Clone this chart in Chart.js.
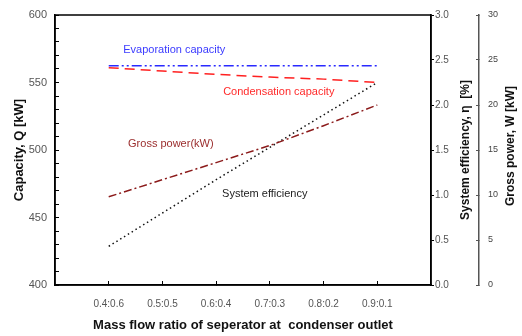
<!DOCTYPE html>
<html>
<head>
<meta charset="utf-8">
<script src="https://cdn.jsdelivr.net/npm/chart.js@4/dist/chart.umd.min.js"></script>
<style>
  html, body { margin: 0; padding: 0; background: #fff; }
  #wrap { width: 522px; height: 336px; }
</style>
</head>
<body>
<div id="wrap"><canvas id="grafico"></canvas></div>
<script>
// valores
const ratioValues = [0.4, 0.5, 0.6, 0.7, 0.8, 0.9];
const ratioLabels = ["0.4:0.6", "0.5:0.5", "0.6:0.4", "0.7:0.3", "0.8:0.2", "0.9:0.1"];
const evaporation = [562.5, 562.5, 562.5, 562.5, 562.5, 562.5];
const condensation = [561, 558.5, 556, 554, 552.5, 550];
const grossPower = [9.8, 11.7, 13.6, 15.5, 17.7, 20.0];
const efficiency = [0.43, 0.80, 1.17, 1.53, 1.89, 2.25];

// rótulos dentro do gráfico (posição em unidades dos eixos x / y)
const notes = [
    { text: "Evaporation capacity", x: 0.427, y: 574, color: "#3b3bff" },
    { text: "Condensation capacity", x: 0.613, y: 543, color: "#ff2a2a" },
    { text: "Gross power(kW)", x: 0.436, y: 504.5, color: "#9b2d2d" },
    { text: "System efficiency", x: 0.611, y: 467.5, color: "#222" }
];

function pontos(valores) {
    return ratioValues.map((x, i) => ({ x: x, y: valores[i] }));
}

function labelDe(v) {
    const i = ratioValues.findIndex(r => Math.abs(r - v) < 1e-6);
    return i >= 0 ? ratioLabels[i] : "";
}

// largura fixa para cada eixo vertical, sem folga extra em cima/embaixo
function larguraFixa(w) {
    return s => {
        s.width = w;
        s.paddingTop = 0;
        s.paddingBottom = 0;
    };
}

const moldura = {
    id: "moldura",
    afterDraw(chart) {
        const { ctx, chartArea: a } = chart;
        ctx.save();
        ctx.strokeStyle = "#000";
        ctx.lineWidth = 1.5;
        ctx.strokeRect(a.left, a.top, a.right - a.left, a.bottom - a.top);

        // textos das curvas
        ctx.font = "11px 'Liberation Sans', Arial, sans-serif";
        ctx.textBaseline = "middle";
        ctx.textAlign = "left";
        notes.forEach(n => {
            ctx.fillStyle = n.color;
            ctx.fillText(n.text, chart.scales.x.getPixelForValue(n.x), chart.scales.y.getPixelForValue(n.y));
        });

        // títulos dos eixos da direita (lidos de baixo para cima)
        const midY = (a.top + a.bottom) / 2;
        ctx.fillStyle = "#111";
        ctx.textAlign = "center";
        ctx.font = "bold 12px 'Liberation Sans', Arial, sans-serif";
        ctx.save();
        ctx.translate(chart.scales.y1.right - 13, midY);
        ctx.rotate(-Math.PI / 2);
        ctx.fillText("System efficiency, \u03b7  [%]", 0, 0);
        ctx.restore();
        ctx.save();
        ctx.translate(chart.scales.y2.right - 11, midY - 4);
        ctx.rotate(-Math.PI / 2);
        ctx.fillText("Gross power, W [kW]", 0, 0);
        ctx.restore();
        ctx.restore();
    }
};

const fonte = "'Liberation Sans', Arial, sans-serif";

new Chart(document.getElementById("grafico"), {
    type: "line",
    data: {
        datasets: [
            {
                label: "Evaporation capacity",
                data: pontos(evaporation),
                yAxisID: "y",
                borderColor: "#2a2aff",
                borderWidth: 1.5,
                borderDash: [10, 3, 2, 3, 2, 3],
                pointRadius: 0,
                fill: false
            },
            {
                label: "Condensation capacity",
                data: pontos(condensation),
                yAxisID: "y",
                borderColor: "#ff2020",
                borderWidth: 1.5,
                borderDash: [10, 6],
                pointRadius: 0,
                fill: false
            },
            {
                label: "Gross power(kW)",
                data: pontos(grossPower),
                yAxisID: "y2",
                borderColor: "#8b1a1a",
                borderWidth: 1.5,
                borderDash: [8, 3, 2, 3],
                pointRadius: 0,
                fill: false
            },
            {
                label: "System efficiency",
                data: pontos(efficiency),
                yAxisID: "y1",
                borderColor: "#111",
                borderWidth: 1.5,
                borderDash: [1.5, 3],
                pointRadius: 0,
                fill: false
            }
        ]
    },
    options: {
        responsive: true,
        maintainAspectRatio: false,
        animation: false,
        layout: { padding: { top: 15, right: 0, left: 0, bottom: 0 } },
        plugins: { legend: { display: false }, tooltip: { enabled: false } },
        scales: {
            x: {
                type: "linear",
                min: 0.3,
                max: 1.0,
                afterFit: s => { s.height = 51; },
                border: { color: "#000", width: 1.5 },
                grid: {
                    drawOnChartArea: false,
                    tickLength: -4,
                    tickColor: c => labelDe(c.tick.value) ? "#000" : "rgba(0,0,0,0)"
                },
                ticks: {
                    stepSize: 0.1,
                    autoSkip: false,
                    maxRotation: 0,
                    padding: 17,
                    color: "#555",
                    font: { family: fonte, size: 10 },
                    callback: v => labelDe(v)
                },
                title: {
                    display: true,
                    text: "Mass flow ratio of seperator at  condenser outlet",
                    color: "#111",
                    font: { family: fonte, size: 13, weight: "bold" },
                    padding: { top: 0, bottom: 3 }
                }
            },
            y: {
                position: "left",
                min: 400,
                max: 600,
                afterFit: larguraFixa(55),
                border: { color: "#000", width: 1.5 },
                grid: { drawOnChartArea: false, tickLength: -4, tickColor: "#000" },
                ticks: {
                    stepSize: 10,
                    autoSkip: false,
                    padding: 12,
                    color: "#555",
                    font: { family: fonte, size: 11 },
                    callback: v => (v % 50 === 0 ? v : "")
                },
                title: {
                    display: true,
                    text: "Capacity, Q [kW]",
                    color: "#111",
                    font: { family: fonte, size: 13, weight: "bold" },
                    padding: { top: 12, bottom: 0 }
                }
            },
            y1: {
                position: "right",
                weight: 0,
                min: 0,
                max: 3,
                afterFit: larguraFixa(48),
                border: { color: "#000", width: 1.5 },
                grid: { drawOnChartArea: false, tickLength: 3, tickColor: "#000" },
                ticks: {
                    stepSize: 0.5,
                    padding: 1,
                    color: "#555",
                    font: { family: fonte, size: 10 },
                    callback: v => v.toFixed(1)
                }
            },
            y2: {
                position: "right",
                weight: 1,
                min: 0,
                max: 30,
                afterFit: larguraFixa(43),
                border: { color: "#555", width: 1.5 },
                grid: { drawOnChartArea: false, tickLength: -3, tickColor: "#555" },
                ticks: {
                    stepSize: 5,
                    padding: 12,
                    color: "#444",
                    font: { family: fonte, size: 9 }
                }
            }
        }
    },
    plugins: [moldura]
});
</script>
</body>
</html>
